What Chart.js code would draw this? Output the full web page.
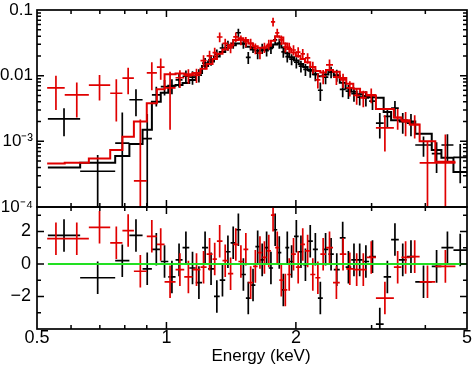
<!DOCTYPE html>
<html><head><meta charset="utf-8">
<script src="https://cdn.jsdelivr.net/npm/chart.js@4.4.1/dist/chart.umd.min.js"></script>
<style>
html,body{margin:0;padding:0;background:#fff;width:474px;height:365px;overflow:hidden}
canvas{position:absolute;left:0;top:0}
</style></head><body>
<canvas id="top" width="474" height="365"></canvas>
<canvas id="bot" width="474" height="365"></canvas>
<script>
// ---------------- data ----------------
const blackEdges = [0.53,0.63,0.76,0.82,0.88,0.925,0.97,1.01,1.05,1.09,1.13,1.17,1.21,1.25,1.29,1.33,1.37,1.41,1.45,1.49,1.53,1.57,1.61,1.65,1.69,1.73,1.77,1.81,1.85,1.89,1.93,1.98,2.03,2.08,2.13,2.19,2.25,2.31,2.38,2.45,2.53,2.61,2.69,2.77,2.86,2.96,3.07,3.20,3.33,3.47,3.62,3.79,4.14,4.36,4.65,5.0];
const blackFlux = [0.0022,0.00035,0.00094,0.0043,0.0011,0.0051,0.0068,0.0070,0.0086,0.0098,0.0095,0.0102,0.0155,0.0174,0.0213,0.0264,0.029,0.031,0.045,0.031,0.019,0.027,0.022,0.026,0.024,0.026,0.035,0.031,0.0230,0.0195,0.0178,0.0160,0.0140,0.0125,0.0118,0.0105,0.0060,0.0095,0.0114,0.0102,0.0062,0.0058,0.0053,0.0047,0.0046,0.0041,0.0019,0.0024,0.0032,0.0020,0.0019,0.00088,0.00065,0.00088,0.00057];
const blackFluxErr = [0.0010,0.00027,0.0018,0.0019,0.0015,0.0017,0.0018,0.0018,0.0020,0.0022,0.0022,0.0023,0.0030,0.0032,0.0037,0.0045,0.0050,0.0052,0.0070,0.0052,0.0040,0.0048,0.0042,0.0046,0.0044,0.0046,0.0056,0.0052,0.0042,0.0037,0.0034,0.0031,0.0028,0.0026,0.0025,0.0023,0.0019,0.0021,0.0023,0.0021,0.0015,0.0014,0.0013,0.0012,0.0012,0.0011,0.0008,0.0008,0.0009,0.0007,0.0007,0.0003,0.00032,0.0004,0.00034];
const blackModel = [0.00040,0.00047,0.00060,0.00091,0.0015,0.0040,0.0055,0.0070,0.0072,0.0077,0.0086,0.0110,0.0140,0.0165,0.0195,0.0230,0.0265,0.0290,0.0310,0.0305,0.0275,0.0250,0.0240,0.0243,0.0252,0.0270,0.0298,0.0310,0.0268,0.0220,0.0190,0.0170,0.0150,0.0136,0.0122,0.0105,0.0098,0.0104,0.0114,0.0100,0.0078,0.0064,0.0057,0.0052,0.0049,0.0047,0.0046,0.0028,0.0021,0.0021,0.0020,0.0013,0.00074,0.00056,0.00034];
const blackResid = [1.75,-0.85,0.2,1.75,-0.3,0.9,0.15,-0.8,0.25,1.0,-0.25,-1.15,1.0,-0.3,-2.0,-1.0,0.75,1.3,2.1,-0.65,-2.1,-1.3,1.06,0.25,1.0,-0.25,2.1,0.7,-1.6,1.0,0.15,1.7,0.75,-0.05,1.4,0.9,-2.1,0.9,0.6,-0.35,1.6,-0.2,0.25,0.25,0.15,0.45,-3.7,-0.8,1.5,0.25,0.45,-1.1,-0.15,1.0,0.85];

const redEdges = [0.528,0.58,0.66,0.74,0.79,0.84,0.90,0.95,0.99,1.05,1.10,1.15,1.20,1.24,1.28,1.31,1.35,1.39,1.43,1.47,1.51,1.55,1.59,1.63,1.67,1.71,1.75,1.79,1.83,1.87,1.91,1.95,2.00,2.05,2.10,2.16,2.22,2.28,2.35,2.44,2.53,2.62,2.72,2.82,2.92,3.07,3.38,3.52,3.68,3.88,4.22,4.70];
const redFlux = [0.0065,0.0051,0.0072,0.0054,0.0092,0.00025,0.0110,0.0135,0.0065,0.0093,0.0100,0.0102,0.0170,0.0200,0.0225,0.0388,0.0310,0.0270,0.0390,0.0350,0.0330,0.0310,0.0260,0.0220,0.0270,0.0300,0.0660,0.0447,0.0350,0.0273,0.0270,0.0246,0.0229,0.0215,0.0186,0.0135,0.0086,0.0098,0.0146,0.0095,0.0086,0.0065,0.0050,0.0046,0.0051,0.0016,0.0023,0.0020,0.0018,0.00047,0.00047];
const redFluxErr = [0.0035,0.0028,0.0030,0.0034,0.0040,0.0019,0.0050,0.0048,0.0050,0.0028,0.0025,0.0025,0.0035,0.0040,0.0042,0.0065,0.0055,0.0050,0.0065,0.0060,0.0058,0.0055,0.0048,0.0042,0.0048,0.0052,0.0100,0.0070,0.0058,0.0048,0.0047,0.0044,0.0041,0.0039,0.0034,0.0028,0.0022,0.0024,0.0030,0.0023,0.0021,0.0017,0.0014,0.0013,0.0013,0.0009,0.0008,0.0008,0.0007,0.00051,0.0008];
const redModel = [0.00046,0.00047,0.00055,0.00074,0.00117,0.0020,0.0038,0.0062,0.0105,0.0108,0.0105,0.0110,0.0128,0.0150,0.0180,0.0215,0.0250,0.0290,0.0350,0.0370,0.0350,0.0310,0.0280,0.0265,0.0265,0.0285,0.0340,0.0400,0.0380,0.0310,0.0255,0.0225,0.0200,0.0180,0.0160,0.0135,0.0118,0.0112,0.0122,0.0115,0.0092,0.0075,0.0063,0.0056,0.0050,0.0031,0.0023,0.0021,0.0018,0.0010,0.00049];
const redResid = [1.55,1.55,2.25,1.3,2.05,-0.45,1.7,1.2,-1.1,-0.35,-0.8,-0.35,-0.2,0.6,0.3,1.4,0.2,-0.6,1.2,0.15,0.9,-1.15,-0.15,0.7,0.4,0.8,3.0,1.0,-1.0,-1.6,-0.65,0.6,-0.2,1.2,0.8,-0.65,-0.85,0.6,1.0,-1.15,0.6,-0.3,-0.35,-0.35,0.4,-2.1,-0.2,0.4,0.45,-1.1,-0.15];
const residSigma = 1;                // residual error bar half-height (sigma)
const zeroLineRange = [0.53, 5.0];   // extent of the green zero line (keV)

const xTickValues = [0.5, 1, 2, 5];
const xTickLabels = ['0.5', '1', '2', '5'];
const fluxTickValues = [1e-4, 1e-3, 1e-2, 1e-1];
const fluxTickLabels = ['10\u207B\u2074', '10\u207B\u00B3', '0.01', '0.1'];
const residTickValues = [-2, 0, 2];
const residTickLabels = ['\u22122', '0', '2'];
const xTitle = 'Energy (keV)';

// ---------------- helpers ----------------
const FONT = '"Liberation Sans", Helvetica, Arial, sans-serif';
const BLACK = '#000000', RED = '#e00000', GREEN = '#22e022';

function errPoints(edges, vals, errs, constErr) {
  return vals.map((v, i) => {
    const e = errs ? errs[i] : constErr;
    return {x: Math.sqrt(edges[i] * edges[i + 1]), y: v, xMin: edges[i], xMax: edges[i + 1], yMin: v - e, yMax: v + e};
  });
}
function stepPoints(edges, vals) {
  const d = vals.map((v, i) => ({x: edges[i], y: v}));
  d.push({x: edges[edges.length - 1], y: vals[vals.length - 1]});
  return d;
}

const errorBarPlugin = {
  id: 'errorBars',
  afterDatasetDraw(chart, args) {
    const ds = chart.data.datasets[args.index];
    if (!ds.errorBars) return;
    const {ctx, chartArea: a, scales: {x, y}} = chart;
    ctx.save();
    ctx.beginPath(); ctx.rect(a.left, a.top, a.right - a.left, a.bottom - a.top); ctx.clip();
    ctx.strokeStyle = ds.borderColor; ctx.lineWidth = 1.7;
    ctx.beginPath();
    for (const p of ds.data) {
      const x0 = x.getPixelForValue(p.xMin), x1 = x.getPixelForValue(p.xMax), xc = x.getPixelForValue(p.x);
      const yc = y.getPixelForValue(p.y);
      const yT = y.getPixelForValue(p.yMax);
      const yB = (y.type === 'logarithmic' && p.yMin <= y.min) ? a.bottom + 5 : y.getPixelForValue(p.yMin);
      ctx.moveTo(x0, yc); ctx.lineTo(x1, yc);
      ctx.moveTo(xc, yT); ctx.lineTo(xc, yB);
    }
    ctx.stroke();
    ctx.restore();
  }
};

const framePlugin = {
  id: 'frame',
  afterDraw(chart, args, o) {
    const {ctx, chartArea: a, scales: {x, y}} = chart;
    ctx.save();
    ctx.strokeStyle = '#000'; ctx.lineWidth = 1.5;
    ctx.beginPath();
    const xt = (vals, len) => vals.forEach(v => { const p = x.getPixelForValue(v);
      ctx.moveTo(p, a.top); ctx.lineTo(p, a.top + len); ctx.moveTo(p, a.bottom); ctx.lineTo(p, a.bottom - len); });
    const yt = (vals, len) => vals.forEach(v => { const p = y.getPixelForValue(v);
      ctx.moveTo(a.left, p); ctx.lineTo(a.left + len, p); ctx.moveTo(a.right, p); ctx.lineTo(a.right - len, p); });
    xt(o.xMajor, 7); xt(o.xMinor, 4); yt(o.yMajor, 7); yt(o.yMinor, 4);
    ctx.stroke();
    ctx.lineWidth = 1.7;
    ctx.strokeRect(a.left, a.top, a.right - a.left, a.bottom - a.top);
    if (o.title) {
      ctx.fillStyle = '#000';
      ctx.font = '17px ' + FONT;
      ctx.textAlign = 'center'; ctx.textBaseline = 'alphabetic';
      ctx.fillText(o.title, (a.left + a.right) / 2 + 9, 361);
    }
    ctx.restore();
  }
};

const xMinorTicks = [0.6, 0.7, 0.8, 0.9, 3, 4];
const xMajorTicks = [1, 2];
const logMinor = [];
[1e-4, 1e-3, 1e-2].forEach(d => { for (let k = 2; k <= 9; k++) logMinor.push(k * d); });

function noPad(s) { s.paddingTop = 0; s.paddingBottom = 0; s.paddingLeft = 0; s.paddingRight = 0; }

// ---------------- upper panel: spectrum ----------------
new Chart(document.getElementById('top'), {
  data: {
    datasets: [
      {type: 'line', data: stepPoints(redEdges, redModel), borderColor: RED, borderWidth: 2, stepped: 'before', pointRadius: 0, fill: false},
      {type: 'scatter', data: errPoints(redEdges, redFlux, redFluxErr), borderColor: RED, backgroundColor: RED, pointRadius: 0, errorBars: true},
      {type: 'line', data: stepPoints(blackEdges, blackModel), borderColor: BLACK, borderWidth: 2, stepped: 'before', pointRadius: 0, fill: false},
      {type: 'scatter', data: errPoints(blackEdges, blackFlux, blackFluxErr), borderColor: BLACK, backgroundColor: BLACK, pointRadius: 0, errorBars: true}
    ]
  },
  options: {
    responsive: false, animation: false, devicePixelRatio: 1,
    layout: {padding: {top: 10, right: 7, bottom: 158, left: 0}},
    plugins: {legend: {display: false}, tooltip: {enabled: false},
      frame: {xMajor: xMajorTicks, xMinor: xMinorTicks, yMajor: [1e-3, 1e-2], yMinor: logMinor}},
    scales: {
      x: {type: 'logarithmic', min: 0.5, max: 5, ticks: {display: false}, grid: {display: false, drawTicks: false}, border: {display: false},
        afterFit(s) { s.height = 0; noPad(s); }},
      y: {type: 'logarithmic', min: 1e-4, max: 0.1,
        afterBuildTicks(s) { s.ticks = fluxTickValues.map(v => ({value: v})); },
        ticks: {callback: (v, i) => fluxTickLabels[i], font: {family: FONT, size: 17}, color: '#000', padding: 4, autoSkip: false},
        grid: {display: false, drawTicks: false}, border: {display: false},
        afterFit(s) { s.width = 37; noPad(s); }}
    }
  },
  plugins: [errorBarPlugin, framePlugin]
});

// ---------------- lower panel: residuals ----------------
new Chart(document.getElementById('bot'), {
  data: {
    datasets: [
      {type: 'line', data: zeroLineRange.map(v => ({x: v, y: 0})), borderColor: GREEN, borderWidth: 2, pointRadius: 0, fill: false},
      {type: 'scatter', data: errPoints(redEdges, redResid, null, residSigma), borderColor: RED, backgroundColor: RED, pointRadius: 0, errorBars: true},
      {type: 'scatter', data: errPoints(blackEdges, blackResid, null, residSigma), borderColor: BLACK, backgroundColor: BLACK, pointRadius: 0, errorBars: true}
    ]
  },
  options: {
    responsive: false, animation: false, devicePixelRatio: 1,
    layout: {padding: {top: 207, right: 7, bottom: 0, left: 0}},
    plugins: {legend: {display: false}, tooltip: {enabled: false},
      frame: {xMajor: xMajorTicks, xMinor: xMinorTicks, yMajor: [-2, 0, 2], yMinor: [-3, -1, 1, 3], title: xTitle}},
    scales: {
      x: {type: 'logarithmic', min: 0.5, max: 5,
        afterBuildTicks(s) { s.ticks = xTickValues.map(v => ({value: v})); },
        ticks: {callback: (v, i) => xTickLabels[i], font: {family: FONT, size: 18}, color: '#000', padding: -2, autoSkip: false, maxRotation: 0, minRotation: 0},
        grid: {display: false, drawTicks: false}, border: {display: false},
        afterFit(s) { s.height = 36; noPad(s); }},
      y: {type: 'linear', min: -4, max: 3.5,
        afterBuildTicks(s) { s.ticks = residTickValues.map(v => ({value: v})); },
        ticks: {callback: (v, i) => residTickLabels[i], font: {family: FONT, size: 18}, color: '#000', padding: 6, autoSkip: false},
        grid: {display: false, drawTicks: false}, border: {display: false},
        afterFit(s) { s.width = 37; noPad(s); }}
    }
  },
  plugins: [errorBarPlugin, framePlugin]
});
</script>
</body></html>
